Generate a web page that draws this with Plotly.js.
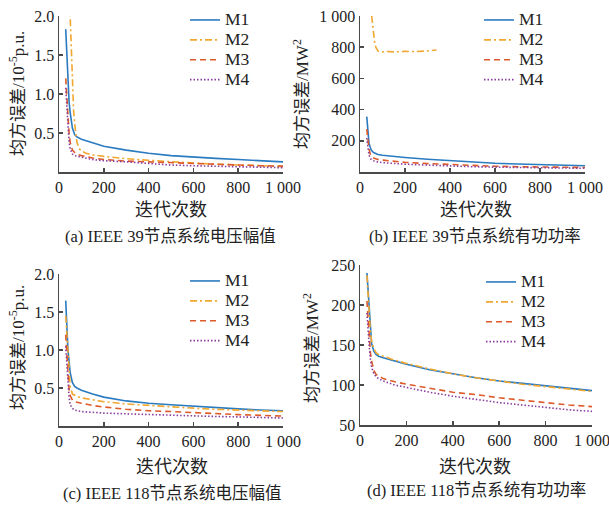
<!DOCTYPE html>
<html><head><meta charset="utf-8">
<script src="https://cdn.plot.ly/plotly-3.0.1.min.js"></script>
<style>html,body{margin:0;padding:0;background:#fff}#chart{width:609px;height:507px}</style>
</head><body><div id="chart"></div>
<script>
// ---------- data ----------
const seriesNames = ["M1", "M2", "M3", "M4"];
const xTickVals = [0, 200, 400, 600, 800, 1000];
const xTickText = ["0", "200", "400", "600", "800", "1 000"];

// common iteration grid
const iters = [30, 35, 40, 45, 50, 60, 70, 80, 100, 150, 200, 300, 400, 500, 600, 700, 800, 900, 1000];

// (a) IEEE 39 voltage magnitude
const a_M1 = [1.83, 1.45, 1.15, 0.90, 0.76, 0.56, 0.48, 0.45, 0.42, 0.37, 0.33, 0.28, 0.24, 0.21, 0.19, 0.175, 0.16, 0.145, 0.13];
const a_M2_x = [48, 55, 60, 65, 70, 75, 80, 90, 100, 120, 150, 200, 300, 400, 500, 600, 700, 800, 900, 1000];
const a_M2 = [2.15, 1.5, 1.1, 0.8, 0.62, 0.48, 0.38, 0.30, 0.27, 0.24, 0.22, 0.20, 0.17, 0.15, 0.13, 0.115, 0.10, 0.09, 0.08, 0.07];
const a_M3 = [1.20, 0.95, 0.70, 0.50, 0.38, 0.28, 0.25, 0.23, 0.21, 0.18, 0.16, 0.14, 0.13, 0.12, 0.105, 0.095, 0.085, 0.08, 0.075];
const a_M4 = [1.08, 0.80, 0.55, 0.38, 0.30, 0.23, 0.21, 0.20, 0.19, 0.16, 0.145, 0.13, 0.11, 0.09, 0.08, 0.072, 0.066, 0.06, 0.055];
const a_yTickVals = [0.5, 1.0, 1.5, 2.0];
const a_yTickText = ["0.5", "1.0", "1.5", "2.0"];

// (b) IEEE 39 active power
const b_M1 = [355, 240, 185, 160, 140, 125, 117, 112, 107, 99, 93, 82, 72, 62, 56, 51, 47, 43, 40];
const b_M2_x = [52, 55, 60, 65, 70, 75, 80, 90, 100, 120, 150, 200, 250, 300, 340];
const b_M2 = [1000, 950, 880, 830, 800, 785, 775, 772, 770, 772, 770, 773, 772, 776, 782];
const b_M3 = [275, 200, 150, 118, 100, 90, 84, 80, 76, 68, 62, 54, 47, 40, 37, 34, 32, 30, 29];
const b_M4 = [218, 150, 110, 90, 80, 72, 67, 64, 60, 54, 50, 44, 38, 34, 31, 29, 27, 25, 24];
const b_yTickVals = [200, 400, 600, 800, 1000];
const b_yTickText = ["200", "400", "600", "800", "1 000"];

// (c) IEEE 118 voltage magnitude
const c_M1 = [1.65, 1.30, 1.00, 0.85, 0.70, 0.57, 0.52, 0.50, 0.47, 0.42, 0.38, 0.33, 0.30, 0.28, 0.26, 0.24, 0.225, 0.21, 0.20];
const c_M2 = [1.45, 1.20, 0.90, 0.65, 0.52, 0.42, 0.40, 0.39, 0.37, 0.34, 0.32, 0.29, 0.27, 0.25, 0.235, 0.22, 0.21, 0.20, 0.19];
const c_M3 = [1.20, 0.95, 0.70, 0.48, 0.40, 0.34, 0.32, 0.31, 0.30, 0.27, 0.25, 0.22, 0.20, 0.19, 0.175, 0.16, 0.15, 0.14, 0.13];
const c_M4 = [1.05, 0.80, 0.60, 0.38, 0.28, 0.23, 0.21, 0.20, 0.19, 0.18, 0.17, 0.16, 0.15, 0.14, 0.135, 0.125, 0.12, 0.11, 0.105];
const c_yTickVals = [0.5, 1.0, 1.5, 2.0];
const c_yTickText = ["0.5", "1.0", "1.5", "2.0"];

// (d) IEEE 118 active power
const d_M1 = [240, 215, 190, 165, 152, 142, 138, 136, 134, 130, 126, 119, 114, 109, 105, 102, 99, 96, 93];
const d_M2 = [237, 212, 188, 166, 155, 145, 140, 138, 136, 131, 127, 120, 114, 109, 105, 101, 98, 95, 92];
const d_M3 = [205, 180, 160, 140, 130, 118, 113, 111, 108, 104, 101, 96, 91, 88, 84, 81, 78, 75, 73];
const d_M4 = [190, 165, 148, 132, 122, 114, 110, 108, 105, 100, 97, 91, 86, 82, 78, 75, 72, 69, 67];
const d_yTickVals = [50, 100, 150, 200, 250];
const d_yTickText = ["50", "100", "150", "200", "250"];

const yTitleVolt = "均方误差/10<sup>-5</sup>p.u.";
const yTitlePower = "均方误差/MW<sup>2</sup>";
const xTitle = "迭代次数";
const captions = ["(a) IEEE 39节点系统电压幅值", "(b) IEEE 39节点系统有功功率",
                  "(c) IEEE 118节点系统电压幅值", "(d) IEEE 118节点系统有功功率"];

// ---------- styling ----------
const W = 609, H = 507;
const colors = ["#2a7bc0", "#f0a830", "#dd5a2a", "#8a3c9c"];
const dashes = ["solid", "7px,3px,2px,3px", "6px,4px", "1.5px,2px"];
const serif = "Liberation Serif, Times New Roman, Noto Sans CJK SC, serif";
const cjk = "Liberation Serif, Noto Sans CJK SC, sans-serif";
const txtColor = "#222";
const axColor = "#4a4a4a";

function px2x(p) { return p / W; }
function px2y(p) { return 1 - p / H; }

const panels = [
  {id: "", xd: [59, 283], yd: [16, 172], yr: [0, 2], yv: a_yTickVals, yt: a_yTickText,
   series: [[iters, a_M1], [a_M2_x, a_M2], [iters, a_M3], [iters, a_M4]], leg: [185, 5]},
  {id: "2", xd: [360, 585], yd: [16, 172], yr: [0, 1000], yv: b_yTickVals, yt: b_yTickText,
   series: [[iters, b_M1], [b_M2_x, b_M2], [iters, b_M3], [iters, b_M4]], leg: [479, 5]},
  {id: "3", xd: [59, 283], yd: [274, 426], yr: [0, 2], yv: c_yTickVals, yt: c_yTickText,
   series: [[iters, c_M1], [iters, c_M2], [iters, c_M3], [iters, c_M4]], leg: [185, 266]},
  {id: "4", xd: [360, 592], yd: [265, 425], yr: [50, 250], yv: d_yTickVals, yt: d_yTickText,
   series: [[iters, d_M1], [iters, d_M2], [iters, d_M3], [iters, d_M4]], leg: [481, 267]},
];

const traces = [];
const layout = {
  width: W, height: H, margin: {l: 0, r: 0, t: 0, b: 0},
  paper_bgcolor: "#fff", plot_bgcolor: "#fff", showlegend: true,
  font: {family: serif, color: txtColor, size: 16},
  annotations: []
};

panels.forEach((p, i) => {
  const xa = "xaxis" + p.id, ya = "yaxis" + p.id;
  const legName = "legend" + p.id;
  p.series.forEach((s, k) => {
    traces.push({
      type: "scatter", mode: "lines", x: s[0], y: s[1],
      name: '<span style="font-size:17.5px">' + seriesNames[k] + '</span>',
      xaxis: "x" + p.id, yaxis: "y" + p.id, legend: legName,
      line: {color: colors[k], width: 1.6, dash: dashes[k]},
      hoverinfo: "skip"
    });
  });
  const common = {showgrid: false, zeroline: false, showline: true, linecolor: axColor, linewidth: 1.5,
    ticks: "inside", ticklen: 4, tickwidth: 1.5, tickcolor: axColor, mirror: false,
    ticklabeloverflow: "allow",
    tickfont: {family: serif, size: 16, color: txtColor}, fixedrange: true};
  layout[xa] = Object.assign({}, common, {domain: [px2x(p.xd[0]), px2x(p.xd[1])], range: [0, 1000],
    tickmode: "array", tickvals: xTickVals, ticktext: xTickText, anchor: "y" + p.id});
  layout[ya] = Object.assign({}, common, {domain: [px2y(p.yd[1]), px2y(p.yd[0])], range: p.yr,
    tickmode: "array", tickvals: p.yv, ticktext: p.yt, anchor: "x" + p.id});
  layout[legName] = {x: px2x(p.leg[0]), y: px2y(p.leg[1]), xanchor: "left", yanchor: "top",
    bgcolor: "rgba(0,0,0,0)", borderwidth: 0, font: {family: serif, size: 13, color: txtColor},
    itemwidth: 30, traceorder: "normal"};
});

// text annotations: axis titles & captions
const xTitlePos = [[171, 210], [476, 210], [172, 467], [475, 467]];
const capPos = [[170, 237], [475, 237], [172, 493], [476, 490]];
const yTitlePos = [[17, 94, yTitleVolt], [301, 94, yTitlePower], [17, 348, yTitleVolt], [311, 348, yTitlePower]];
for (let i = 0; i < 4; i++) {
  layout.annotations.push({xref: "paper", yref: "paper", x: px2x(xTitlePos[i][0]), y: px2y(xTitlePos[i][1]),
    xanchor: "center", yanchor: "middle", showarrow: false, text: xTitle,
    font: {family: cjk, size: 18, color: txtColor}});
  layout.annotations.push({xref: "paper", yref: "paper", x: px2x(capPos[i][0]), y: px2y(capPos[i][1]),
    xanchor: "center", yanchor: "middle", showarrow: false, text: captions[i],
    font: {family: cjk, size: 16.5, color: txtColor}});
  layout.annotations.push({xref: "paper", yref: "paper", x: px2x(yTitlePos[i][0]), y: px2y(yTitlePos[i][1]),
    xanchor: "center", yanchor: "middle", showarrow: false, text: yTitlePos[i][2], textangle: -90,
    font: {family: cjk, size: 17, color: txtColor}});
}

Plotly.newPlot("chart", traces, layout, {displayModeBar: false, staticPlot: true});
</script>
</body></html>
